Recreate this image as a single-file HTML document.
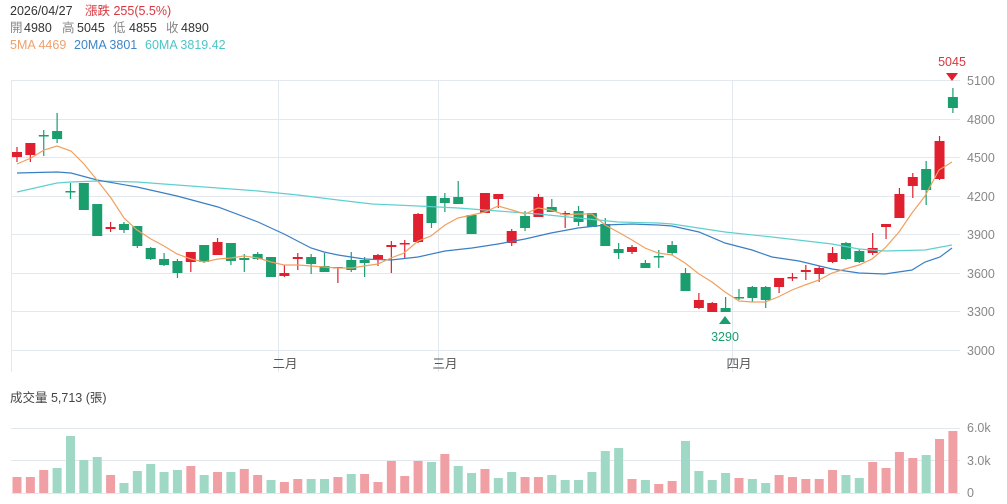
<!DOCTYPE html>
<html><head><meta charset="utf-8"><style>
html,body{margin:0;padding:0;background:#fff;}
body{width:1007px;height:504px;overflow:hidden;font-family:"Liberation Sans","Noto Sans CJK TC",sans-serif;}
svg{display:block}
</style></head><body>
<svg id="s" width="1007" height="504" xmlns="http://www.w3.org/2000/svg" font-family="Liberation Sans, Noto Sans CJK TC, sans-serif">
<g font-size="12.5">
<text x="10" y="15" fill="#333">2026/04/27</text>
<text x="85" y="15" fill="#d9363e">漲跌 255(5.5%)</text>
<text x="10" y="32" fill="#888">開</text><text x="24" y="32" fill="#333">4980</text>
<text x="62" y="32" fill="#888">高</text><text x="77" y="32" fill="#333">5045</text>
<text x="113" y="32" fill="#888">低</text><text x="129" y="32" fill="#333">4855</text>
<text x="166" y="32" fill="#888">收</text><text x="181" y="32" fill="#333">4890</text>
<text x="10" y="49" fill="#f0a06a">5MA 4469</text>
<text x="74" y="49" fill="#3c86c8">20MA 3801</text>
<text x="145" y="49" fill="#4cc5c8">60MA 3819.42</text>
<text x="10" y="402" fill="#444">成交量  5,713 (張)</text>
</g>
<g stroke="#e3e8ee" stroke-width="1">
<line x1="11" y1="80.5" x2="960" y2="80.5"/><line x1="11" y1="119.5" x2="960" y2="119.5"/><line x1="11" y1="157.5" x2="960" y2="157.5"/><line x1="11" y1="196.5" x2="960" y2="196.5"/><line x1="11" y1="234.5" x2="960" y2="234.5"/><line x1="11" y1="273.5" x2="960" y2="273.5"/><line x1="11" y1="311.5" x2="960" y2="311.5"/><line x1="11" y1="350.5" x2="960" y2="350.5"/>
<line x1="11.5" y1="80" x2="11.5" y2="372"/><line x1="278.5" y1="80" x2="278.5" y2="372"/><line x1="438.5" y1="80" x2="438.5" y2="372"/><line x1="732.5" y1="80" x2="732.5" y2="372"/>
<line x1="11" y1="428.5" x2="960" y2="428.5"/><line x1="11" y1="460.5" x2="960" y2="460.5"/><line x1="11" y1="493.5" x2="960" y2="493.5"/>
</g>
<g font-size="12.5" fill="#888">
<text x="967" y="85">5100</text><text x="967" y="124">4800</text><text x="967" y="162">4500</text><text x="967" y="201">4200</text><text x="967" y="239">3900</text><text x="967" y="278">3600</text><text x="967" y="316">3300</text><text x="967" y="355">3000</text>
<text x="967" y="432">6.0k</text><text x="967" y="465">3.0k</text><text x="967" y="497">0</text>
</g>
<g font-size="12.5" fill="#555" text-anchor="middle">
<text x="285" y="368">二月</text><text x="445" y="368">三月</text><text x="739" y="368">四月</text>
</g>
<g id="c"></g>
<polyline fill="none" stroke="#5fd0cf" stroke-width="1.2" points="17,192 57,183 71,182 97,181 137,182 177,185 218,188 258,191 298,195 338,200 372,204 418,206 458,208 498,211 538,214 578,218 618,222 658,223 672,224 725,232 772,237 832,244 859,249 885,251 925,250 952,245"/>
<polyline fill="none" stroke="#3a7fc4" stroke-width="1.2" points="17,173 57,172 71,173 97,180 137,187 177,196 218,207 258,222 284,234 311,248 324,252 338,255 364,259 391,260 418,257 445,251 472,248 498,244 525,239 551,233 578,228 605,225 632,224 658,225 672,226 699,232 725,243 752,250 772,257 799,261 832,269 859,273 885,274 912,270 925,262 940,257 952,248"/>
<polyline fill="none" stroke="#f0a060" stroke-width="1.2" points="17,164 31,158 44,150 57,146 71,151 84,164 97,180 111,198 124,218 137,230 151,239 164,246 177,254 191,259 204,262 218,259 231,258 244,256 258,258 271,262 284,265 298,265 311,266 324,267 338,268 352,268 364,266 378,264 391,258 404,253 418,241 431,236 445,225 458,218 472,215 485,212 498,206 512,210 525,214 538,208 551,210 565,215 578,214 592,214 605,225 618,232 632,240 645,248 658,253 672,255 685,263 699,274 712,282 725,292 739,301 752,302 765,302 778,297 792,290 805,285 819,280 832,273 845,269 859,265 872,259 885,248 899,232 912,213 925,196 939,170 952,162"/>
<g font-size="12.5" text-anchor="middle">
<text x="952" y="66" fill="#d9363e">5045</text>
<polygon points="946,73 958,73 952,81" fill="#e0202e"/>
<polygon points="719,324 731,324 725,316" fill="#1a9e6e"/>
<text x="725" y="341" fill="#1a9e6e">3290</text>
</g>
</svg>
<script>
var C=[[152,157,147,162,1],[143,155,143,162,1],[135,136,130,156,0],[131,139,113,143,0],[191,192,183,199,0],[183,210,183,210,0],[204,236,204,236,0],[227,229,222,232,1],[224,230,222,233,0],[226,246,226,248,0],[248,259,247,260,0],[259,265,253,266,0],[261,273,259,278,0],[252,262,252,272,1],[245,262,245,263,0],[242,255,238,255,1],[243,261,243,265,0],[258,260,254,272,0],[254,259,252,260,0],[257,277,257,277,0],[273,276,265,277,1],[257,259,253,270,1],[257,264,254,274,0],[266,272,253,272,0],[267,268,267,283,1],[260,270,252,272,0],[260,263,257,277,0],[255,259,254,266,1],[245,247,241,273,1],[243,244,240,258,1],[214,242,213,243,1],[196,223,196,228,0],[198,203,193,212,0],[197,204,181,204,0],[215,234,215,234,0],[193,213,193,213,1],[194,199,194,208,1],[231,243,229,246,1],[216,228,211,231,0],[197,217,194,217,1],[207,212,199,212,0],[213,214,211,228,1],[211,222,206,226,0],[213,227,213,227,0],[224,246,218,246,0],[249,253,243,259,0],[247,252,245,254,1],[263,268,260,268,0],[256,257,250,268,0],[245,253,241,255,0],[273,291,268,291,0],[300,308,293,309,1],[303,312,302,312,1],[308,312,297,312,0],[297,298,289,300,0],[287,298,286,302,0],[287,300,286,308,0],[278,287,278,293,1],[277,278,273,281,1],[270,272,265,280,1],[268,274,266,282,1],[253,262,247,263,1],[243,259,242,260,0],[251,262,249,263,0],[248,253,233,255,1],[224,227,224,239,1],[194,218,188,218,1],[177,186,173,198,1],[169,190,161,205,0],[141,179,136,180,1],[97,108,88,113,0]];
var V=[[477,1],[477,1],[470,1],[468,0],[436,0],[460,0],[457,0],[475,1],[483,0],[471,0],[464,0],[472,0],[470,0],[466,1],[475,0],[472,1],[472,0],[469,1],[475,1],[480,0],[482,1],[479,1],[479,0],[479,0],[477,1],[474,0],[474,1],[482,1],[461,1],[476,1],[461,1],[462,0],[454,1],[466,0],[473,0],[469,1],[478,0],[472,0],[477,1],[477,1],[475,0],[480,0],[480,0],[472,0],[451,0],[448,0],[479,1],[480,0],[484,1],[481,1],[441,0],[471,0],[480,0],[473,0],[478,1],[479,0],[483,0],[475,1],[477,1],[479,1],[479,1],[470,1],[475,0],[478,0],[462,1],[468,1],[452,1],[458,1],[455,0],[439,1],[431,1]];
var g=document.getElementById('c'),h='';
for(var i=0;i<71;i++){var x=17+i*13.37;var c=C[i],col=c[4]?'#e0202e':'#1a9e6e';
h+='<line x1="'+x+'" x2="'+x+'" y1="'+c[2]+'" y2="'+c[3]+'" stroke="'+col+'" stroke-width="1.2"/>';
var bh=Math.max(c[1]-c[0],1.5);h+='<rect x="'+(x-5)+'" y="'+c[0]+'" width="10" height="'+bh+'" fill="'+col+'"/>';
var v=V[i];h+='<rect x="'+(x-4.5)+'" y="'+v[0]+'" width="9" height="'+(493-v[0])+'" fill="'+(v[1]?'#f0a0a4':'#9fd8c4')+'"/>';}
g.innerHTML=h;
</script>
</body></html>
